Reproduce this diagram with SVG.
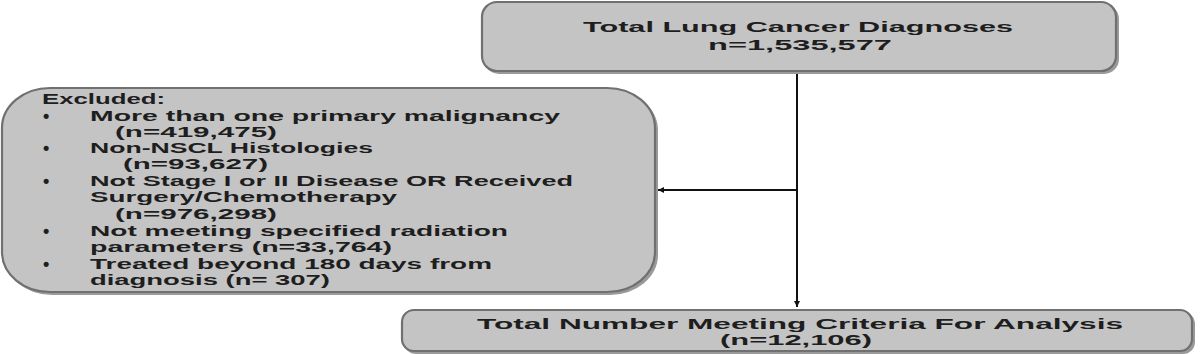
<svg xmlns="http://www.w3.org/2000/svg" width="1200" height="354" viewBox="0 0 1200 354">
<style>
.box{fill:#c4c4c4;stroke:#707070;stroke-width:2.2}
.shadow{fill:#9a9a9a}
.t{font-family:"Liberation Sans",Arial,sans-serif;fill:#1e1e1e;font-weight:bold}
.s14{font-size:14px}
.s15{font-size:15px}
.b{font-family:"Liberation Sans",Arial,sans-serif;fill:#1e1e1e;font-size:18px;font-weight:bold}
.line{stroke:#111;stroke-width:2;fill:none}
</style>
<defs>
<marker id="ah" viewBox="0 0 10 10" refX="10" refY="5" markerWidth="6" markerHeight="6" markerUnits="userSpaceOnUse" orient="auto">
<path d="M0,0 L10,5 L0,10 z" fill="#111"/>
</marker>
</defs>
<g id="connectors">
<line class="line" x1="797" y1="72" x2="797" y2="307" marker-end="url(#ah)"/>
<line class="line" x1="797" y1="190" x2="658" y2="190" marker-end="url(#ah)"/>
</g>
<g id="top">
<rect class="shadow" x="484" y="4" width="635" height="70" rx="15" ry="15"/>
<rect class="box" x="482" y="2" width="634" height="69" rx="15" ry="15"/>
<text class="t s15" x="583" y="32" textLength="430" lengthAdjust="spacingAndGlyphs">Total Lung Cancer Diagnoses</text>
<text class="t s15" x="708" y="50" textLength="184" lengthAdjust="spacingAndGlyphs">n=1,535,577</text>
</g>
<g id="excluded">
<rect class="shadow" x="4" y="90" width="654" height="205" rx="48" ry="40"/>
<rect class="box" x="2" y="88" width="653" height="204" rx="48" ry="40"/>
<text class="t s14" x="42" y="104" textLength="123" lengthAdjust="spacingAndGlyphs">Excluded:</text>
<g class="b">
<text x="43" y="122">•</text>
<text x="43" y="154">•</text>
<text x="43" y="187">•</text>
<text x="43" y="237">•</text>
<text x="43" y="270">•</text>
</g>
<text class="t s14" x="90" y="121" textLength="470" lengthAdjust="spacingAndGlyphs">More than one primary malignancy</text>
<text class="t s14" x="115" y="137" textLength="162" lengthAdjust="spacingAndGlyphs">(n=419,475)</text>
<text class="t s14" x="90" y="153" textLength="283" lengthAdjust="spacingAndGlyphs">Non-NSCL Histologies</text>
<text class="t s14" x="123" y="169" textLength="145" lengthAdjust="spacingAndGlyphs">(n=93,627)</text>
<text class="t s14" x="90" y="186" textLength="483" lengthAdjust="spacingAndGlyphs">Not Stage I or II Disease  OR Received</text>
<text class="t s14" x="90" y="202" textLength="307" lengthAdjust="spacingAndGlyphs">Surgery/Chemotherapy</text>
<text class="t s14" x="115" y="219" textLength="162" lengthAdjust="spacingAndGlyphs">(n=976,298)</text>
<text class="t s14" x="90" y="236" textLength="418" lengthAdjust="spacingAndGlyphs">Not meeting specified radiation</text>
<text class="t s14" x="90" y="252" textLength="302" lengthAdjust="spacingAndGlyphs">parameters (n=33,764)</text>
<text class="t s14" x="90" y="269" textLength="402" lengthAdjust="spacingAndGlyphs">Treated beyond 180 days from</text>
<text class="t s14" x="90" y="285" textLength="240" lengthAdjust="spacingAndGlyphs">diagnosis (n= 307)</text>
</g>
<g id="bottom">
<rect class="shadow" x="404" y="312" width="791" height="42" rx="12" ry="12"/>
<rect class="box" x="402" y="310" width="790" height="41" rx="12" ry="12"/>
<text class="t s14" x="477" y="329" textLength="646" lengthAdjust="spacingAndGlyphs">Total Number Meeting Criteria For Analysis</text>
<text class="t s14" x="720" y="345" textLength="152" lengthAdjust="spacingAndGlyphs">(n=12,106)</text>
</g>
</svg>
